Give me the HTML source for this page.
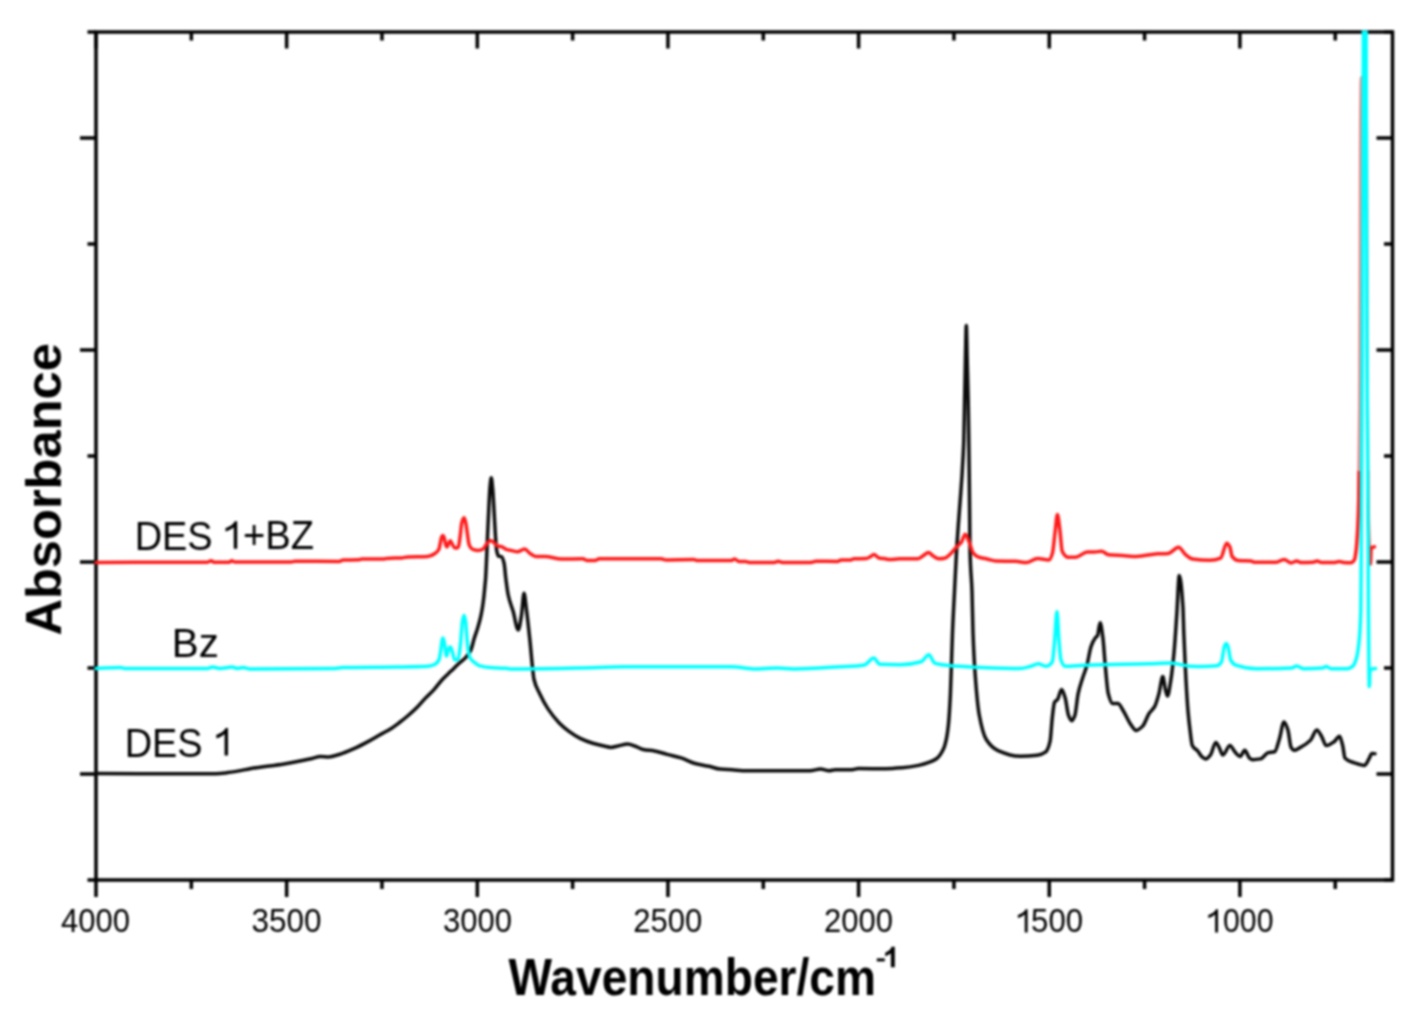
<!DOCTYPE html>
<html><head><meta charset="utf-8"><style>
html,body{margin:0;padding:0;background:#fff;width:1428px;height:1022px;overflow:hidden}
svg{display:block;filter:blur(0.8px)}
text{font-family:"Liberation Sans",sans-serif;fill:#000}
</style></head><body>
<svg width="1428" height="1022" viewBox="0 0 1428 1022">
<rect width="1428" height="1022" fill="#fff"/>
<g fill="none" stroke="#000" stroke-width="3.5" stroke-linecap="butt">
<rect x="96" y="32" width="1296.5" height="848"/>
<path d="M80,138H96M80,350H96M80,562H96M80,774H96M87.5,32H96M87.5,244H96M87.5,456H96M87.5,668H96M87.5,880H96M1376.5,138H1392.5M1376.5,350H1392.5M1376.5,562H1392.5M1376.5,774H1392.5M1384.0,32H1392.5M1384.0,244H1392.5M1384.0,456H1392.5M1384.0,668H1392.5M1384.0,880H1392.5M96.00,32V48.5M286.65,32V48.5M477.30,32V48.5M667.95,32V48.5M858.60,32V48.5M1049.25,32V48.5M1239.90,32V48.5M191.33,32V40.5M381.98,32V40.5M572.63,32V40.5M763.28,32V40.5M953.93,32V40.5M1144.58,32V40.5M1335.23,32V40.5M96.00,880V897M286.65,880V897M477.30,880V897M667.95,880V897M858.60,880V897M1049.25,880V897M1239.90,880V897M191.33,880V889M381.98,880V889M572.63,880V889M763.28,880V889M953.93,880V889M1144.58,880V889M1335.23,880V889"/>
</g>
<text id="t4000" x="60.90" y="932.40" font-size="33.60" textLength="69.00" lengthAdjust="spacingAndGlyphs">4000</text><text id="t3500" x="251.50" y="932.40" font-size="33.60" textLength="70.00" lengthAdjust="spacingAndGlyphs">3500</text><text id="t3000" x="443.00" y="932.40" font-size="33.60" textLength="69.00" lengthAdjust="spacingAndGlyphs">3000</text><text id="t2500" x="633.20" y="932.40" font-size="33.60" textLength="69.00" lengthAdjust="spacingAndGlyphs">2500</text><text id="t2000" x="823.90" y="932.40" font-size="33.60" textLength="69.00" lengthAdjust="spacingAndGlyphs">2000</text><path id="t1500a" fill="#000" transform="translate(1015.604,932.400) scale(0.015723,-0.015723)" d="M763,0L583,0L583,1147C543,1109 490,1071 426,1033C352,990 250,950 143,920L143,1100C263,1150 400,1213 484,1280C558,1346 610,1408 640,1466L763,1466Z"/><text id="t1500" x="1031.10" y="932.40" font-size="33.60" textLength="52.00" lengthAdjust="spacingAndGlyphs">500</text><path id="t1000a" fill="#000" transform="translate(1206.004,932.400) scale(0.015723,-0.015723)" d="M763,0L583,0L583,1147C543,1109 490,1071 426,1033C352,990 250,950 143,920L143,1100C263,1150 400,1213 484,1280C558,1346 610,1408 640,1466L763,1466Z"/><text id="t1000" x="1223.00" y="932.40" font-size="33.60" textLength="50.50" lengthAdjust="spacingAndGlyphs">000</text><text id="wave" x="508.50" y="995.10" font-size="51.50" font-weight="bold" textLength="367.50" lengthAdjust="spacingAndGlyphs">Wavenumber/cm</text><rect id="supm" fill="#000" x="876.8" y="958.4" width="8" height="3"/><path id="sup1" fill="#000" transform="translate(883.125,967.200) scale(0.013965,-0.013965)" d="M836,0L555,0L555,1000C470,920 340,850 150,790L150,1040C260,1080 360,1140 440,1210C520,1280 570,1360 600,1466L836,1466Z"/><text id="abs" transform="translate(61.20,635.60) rotate(-90)" font-size="49.50" font-weight="bold" textLength="292.50" lengthAdjust="spacingAndGlyphs">Absorbance</text><text id="l1" x="134.65" y="549.60" font-size="41.20" textLength="78.00" lengthAdjust="spacingAndGlyphs">DES</text><path id="l1b" fill="#000" transform="translate(222.819,548.800) scale(0.018848,-0.018848)" d="M763,0L583,0L583,1147C543,1109 490,1071 426,1033C352,990 250,950 143,920L143,1100C263,1150 400,1213 484,1280C558,1346 610,1408 640,1466L763,1466Z"/><text id="l1c" x="243.00" y="549.40" font-size="39.80" textLength="71.00" lengthAdjust="spacingAndGlyphs">+BZ</text><text id="l2" x="171.80" y="656.70" font-size="39.80" textLength="47.00" lengthAdjust="spacingAndGlyphs">Bz</text><text id="l3" x="124.65" y="756.60" font-size="41.20" textLength="78.00" lengthAdjust="spacingAndGlyphs">DES</text><path id="l3b" fill="#000" transform="translate(213.619,755.600) scale(0.018848,-0.018848)" d="M763,0L583,0L583,1147C543,1109 490,1071 426,1033C352,990 250,950 143,920L143,1100C263,1150 400,1213 484,1280C558,1346 610,1408 640,1466L763,1466Z"/>
<clipPath id="c"><rect x="0" y="30.5" width="1428" height="900"/></clipPath>
<clipPath id="rA"><path d="M0,0H1355V470H1373V0H1428V1022H0Z"/></clipPath>
<clipPath id="rB"><rect x="1355" y="0" width="18" height="470"/></clipPath>
<g fill="none" stroke-width="3.5" stroke-linejoin="round" stroke-linecap="round" clip-path="url(#c)">
<path transform="translate(0,0.3)" stroke="#0a0a0a" d="M96.00,773.30C136.00,773.33 176.00,773.40 216.00,773.40C220.00,773.40 224.00,772.76 228.00,772.30C237.33,771.22 246.67,768.81 256.00,767.40C265.33,765.99 274.67,765.17 284.00,763.70C293.33,762.23 302.67,760.24 312.00,758.20C314.80,757.59 317.60,756.20 320.40,756.20C323.20,756.20 326.00,756.60 328.80,756.60C332.53,756.60 336.27,755.01 340.00,753.90C344.67,752.51 349.33,750.37 354.00,748.30C358.67,746.23 363.33,743.79 368.00,741.30C372.67,738.81 377.33,735.91 382.00,733.30C384.67,731.81 387.33,730.54 390.00,728.90C392.93,727.09 395.87,724.89 398.80,722.70C401.73,720.51 404.67,718.17 407.60,715.70C410.53,713.23 413.47,710.70 416.40,707.80C419.33,704.90 422.27,701.18 425.20,698.10C428.13,695.02 431.07,692.51 434.00,689.30C436.93,686.09 439.87,681.84 442.80,678.70C445.53,675.78 448.27,673.43 451.00,670.80C453.53,668.36 456.07,665.87 458.60,663.50C461.17,661.10 463.73,659.42 466.30,656.50C467.80,654.79 469.30,653.12 470.80,650.00C471.93,647.64 473.07,641.87 474.20,638.20C475.33,634.53 476.47,631.66 477.60,627.90C478.53,624.80 479.47,621.72 480.40,617.70C481.07,614.83 481.73,611.48 482.40,607.40C482.87,604.54 483.33,601.14 483.80,597.10C484.13,594.21 484.47,590.35 484.80,586.80C485.07,583.96 485.33,581.74 485.60,578.00C485.93,573.32 486.27,565.27 486.60,558.00C486.90,551.46 487.20,543.35 487.50,536.50C487.93,526.60 488.37,516.73 488.80,508.20C489.20,500.33 489.60,490.66 490.00,486.60C490.43,482.21 490.87,477.50 491.30,477.50C491.80,477.50 492.30,484.41 492.80,490.00C493.23,494.85 493.67,504.11 494.10,511.60C494.50,518.52 494.90,527.21 495.30,533.20C495.73,539.69 496.17,547.41 496.60,549.80C497.17,552.93 497.73,555.29 498.30,555.60C499.40,556.21 500.50,555.94 501.60,556.50C502.43,556.93 503.27,559.59 504.10,563.10C504.67,565.48 505.23,573.68 505.80,578.10C506.60,584.35 507.40,590.96 508.20,594.70C509.87,602.50 511.53,605.50 513.20,611.30C514.87,617.10 516.53,629.60 518.20,629.60C519.30,629.60 520.40,621.33 521.50,614.70C522.33,609.68 523.17,593.00 524.00,593.00C524.83,593.00 525.67,603.38 526.50,609.70C527.63,618.29 528.77,629.10 529.90,640.00C530.80,648.65 531.70,659.98 532.60,668.00C533.07,672.16 533.53,677.21 534.00,679.20C535.87,687.14 537.73,689.21 539.60,693.20C542.40,699.18 545.20,704.40 548.00,708.60C551.73,714.20 555.47,718.82 559.20,722.60C562.47,725.91 565.73,728.63 569.00,731.00C572.73,733.71 576.47,736.20 580.20,738.00C584.40,740.02 588.60,741.63 592.80,742.90C596.53,744.03 600.27,744.88 604.00,745.70C606.33,746.21 608.67,747.10 611.00,747.10C613.33,747.10 615.67,746.18 618.00,745.70C621.27,745.03 624.53,743.60 627.80,743.60C630.13,743.60 632.47,744.89 634.80,745.70C637.60,746.67 640.40,748.65 643.20,749.20C646.97,749.94 650.73,749.96 654.50,750.60C658.70,751.31 662.90,752.99 667.10,754.10C671.77,755.33 676.43,756.16 681.10,757.60C685.77,759.04 690.43,761.96 695.10,763.20C699.77,764.44 704.43,764.95 709.10,766.00C712.73,766.82 716.37,768.45 720.00,768.80C724.00,769.18 728.00,769.26 732.00,769.50C737.00,769.80 742.00,770.40 747.00,770.40C768.00,770.40 789.00,770.40 810.00,770.40C813.53,770.40 817.07,768.70 820.60,768.70C823.40,768.70 826.20,770.40 829.00,770.40C831.10,770.40 833.20,769.40 835.30,769.40C840.87,769.40 846.43,769.40 852.00,769.40C854.13,769.40 856.27,768.30 858.40,768.30C867.53,768.30 876.67,768.40 885.80,768.40C891.27,768.40 896.73,767.94 902.20,767.50C907.67,767.06 913.13,766.19 918.60,765.10C922.23,764.37 925.87,763.28 929.50,761.90C931.93,760.98 934.37,760.03 936.80,758.20C938.93,756.60 941.07,753.72 943.20,749.30C944.30,747.02 945.40,743.23 946.50,738.00C947.13,734.99 947.77,730.71 948.40,724.60C949.07,718.17 949.73,707.65 950.40,693.80C950.73,686.88 951.07,674.76 951.40,665.00C951.77,654.26 952.13,641.28 952.50,632.20C953.17,615.68 953.83,604.47 954.50,591.10C955.20,577.06 955.90,561.69 956.60,550.00C957.23,539.42 957.87,530.93 958.50,522.20C959.10,513.93 959.70,506.76 960.30,498.70C960.87,491.09 961.43,484.03 962.00,475.20C962.40,468.97 962.80,462.28 963.20,454.10C963.40,450.01 963.60,446.29 963.80,440.00C964.07,431.62 964.33,413.33 964.60,400.00C964.87,386.67 965.13,371.66 965.40,360.00C965.70,346.88 966.00,325.20 966.30,325.20C966.60,325.20 966.90,348.21 967.20,360.00C967.53,373.10 967.87,382.98 968.20,400.00C968.40,410.21 968.60,425.41 968.80,440.00C968.97,452.15 969.13,465.12 969.30,480.00C969.43,491.90 969.57,506.67 969.70,520.00C969.80,530.00 969.90,545.93 970.00,550.00C970.67,577.14 971.33,572.13 972.00,591.10C972.33,600.58 972.67,622.97 973.00,632.20C973.70,651.57 974.40,663.69 975.10,673.30C976.47,692.07 977.83,707.00 979.20,714.40C981.60,727.39 984.00,735.81 986.40,739.50C990.27,745.45 994.13,748.64 998.00,750.30C1005.33,753.46 1012.67,756.00 1020.00,756.00C1025.73,756.00 1031.47,755.58 1037.20,754.90C1040.07,754.56 1042.93,753.68 1045.80,751.60C1047.23,750.56 1048.67,747.11 1050.10,740.90C1050.83,737.72 1051.57,723.35 1052.30,717.20C1053.03,711.05 1053.77,703.44 1054.50,702.10C1055.57,700.15 1056.63,700.40 1057.70,698.90C1059.00,697.07 1060.30,689.20 1061.60,689.20C1062.80,689.20 1064.00,693.85 1065.20,697.80C1066.30,701.42 1067.40,712.20 1068.50,715.00C1069.57,717.71 1070.63,720.40 1071.70,720.40C1072.77,720.40 1073.83,717.88 1074.90,715.00C1075.97,712.12 1077.03,698.50 1078.10,693.50C1079.53,686.79 1080.97,682.98 1082.40,678.40C1083.87,673.71 1085.33,670.72 1086.80,665.50C1088.23,660.40 1089.67,650.07 1091.10,646.10C1092.53,642.13 1093.97,639.34 1095.40,637.50C1096.10,636.60 1096.80,636.54 1097.50,635.40C1098.37,633.99 1099.23,622.40 1100.10,622.40C1101.03,622.40 1101.97,630.49 1102.90,637.50C1103.63,643.01 1104.37,655.68 1105.10,663.40C1106.17,674.63 1107.23,689.50 1108.30,693.50C1109.73,698.88 1111.17,703.20 1112.60,703.20C1114.40,703.20 1116.20,703.20 1118.00,703.20C1119.80,703.20 1121.60,707.85 1123.40,710.70C1125.53,714.08 1127.67,719.56 1129.80,722.60C1131.97,725.69 1134.13,730.10 1136.30,730.10C1138.43,730.10 1140.57,727.94 1142.70,725.80C1144.87,723.63 1147.03,716.12 1149.20,712.90C1151.00,710.22 1152.80,709.54 1154.60,706.40C1156.03,703.90 1157.47,698.63 1158.90,693.50C1160.20,688.84 1161.50,676.30 1162.80,676.30C1163.67,676.30 1164.53,685.92 1165.40,689.20C1166.10,691.85 1166.80,695.70 1167.50,695.70C1168.57,695.70 1169.63,687.06 1170.70,680.60C1171.80,673.94 1172.90,664.25 1174.00,652.60C1174.93,642.71 1175.87,627.46 1176.80,613.80C1177.63,601.60 1178.47,575.10 1179.30,575.10C1180.50,575.10 1181.70,588.28 1182.90,606.30C1183.20,610.80 1183.50,624.99 1183.80,632.70C1184.23,643.83 1184.67,652.85 1185.10,662.00C1185.40,668.34 1185.70,674.70 1186.00,680.00C1186.67,691.78 1187.33,702.90 1188.00,710.70C1188.67,718.50 1189.33,724.32 1190.00,729.60C1190.77,735.68 1191.53,743.69 1192.30,745.20C1194.13,748.81 1195.97,748.63 1197.80,750.80C1199.10,752.34 1200.40,755.11 1201.70,756.20C1203.03,757.32 1204.37,758.60 1205.70,758.60C1207.27,758.60 1208.83,756.60 1210.40,754.70C1212.20,752.52 1214.00,742.10 1215.80,742.10C1216.87,742.10 1217.93,744.99 1219.00,746.80C1220.30,749.00 1221.60,754.70 1222.90,754.70C1225.23,754.70 1227.57,745.30 1229.90,745.30C1231.73,745.30 1233.57,750.47 1235.40,752.30C1236.97,753.87 1238.53,756.20 1240.10,756.20C1241.67,756.20 1243.23,750.00 1244.80,750.00C1246.37,750.00 1247.93,756.61 1249.50,757.80C1250.53,758.59 1251.57,759.40 1252.60,759.40C1255.23,759.40 1257.87,759.07 1260.50,758.60C1263.10,758.13 1265.70,752.86 1268.30,752.30C1270.40,751.85 1272.50,752.03 1274.60,751.50C1276.17,751.10 1277.73,743.83 1279.30,739.00C1280.87,734.17 1282.43,721.80 1284.00,721.80C1285.30,721.80 1286.60,725.71 1287.90,729.60C1288.93,732.69 1289.97,745.00 1291.00,746.80C1292.03,748.60 1293.07,750.00 1294.10,750.00C1295.93,750.00 1297.77,748.56 1299.60,747.60C1303.27,745.67 1306.93,743.57 1310.60,739.80C1312.67,737.67 1314.73,729.60 1316.80,729.60C1318.37,729.60 1319.93,733.39 1321.50,735.90C1323.07,738.41 1324.63,745.30 1326.20,745.30C1328.83,745.30 1331.47,743.19 1334.10,741.40C1335.90,740.18 1337.70,735.90 1339.50,735.90C1340.57,735.90 1341.63,741.16 1342.70,745.30C1343.47,748.27 1344.23,756.96 1345.00,757.80C1348.13,761.25 1351.27,761.44 1354.40,762.50C1357.80,763.65 1361.20,765.10 1364.60,765.10C1366.13,765.10 1367.67,760.60 1369.20,758.00C1370.07,756.53 1370.93,753.20 1371.80,753.20C1372.87,753.20 1373.93,753.33 1375.00,753.40"/>
<path transform="translate(0,0.4)" stroke="#ff1a1a" clip-path="url(#rA)" d="M96.00,562.00C133.00,561.93 170.00,561.99 207.00,561.80C208.40,561.79 209.80,560.40 211.20,560.40C212.13,560.40 213.07,561.80 214.00,561.80C219.00,561.80 224.00,561.80 229.00,561.80C229.93,561.80 230.87,560.40 231.80,560.40C232.87,560.40 233.93,561.60 235.00,561.60C253.67,561.60 272.33,561.60 291.00,561.60C292.33,561.60 293.67,560.90 295.00,560.90C309.73,560.90 324.47,561.00 339.20,561.00C340.50,561.00 341.80,559.64 343.10,559.60C348.33,559.44 353.57,559.56 358.80,559.40C359.80,559.37 360.80,558.60 361.80,558.60C369.30,558.60 376.80,558.60 384.30,558.60C384.97,558.60 385.63,558.05 386.30,558.00C391.53,557.62 396.77,557.81 402.00,557.50C403.93,557.38 405.87,556.60 407.80,556.50C414.37,556.16 420.93,556.37 427.50,556.00C428.33,555.95 429.17,555.73 430.00,555.50C431.63,555.06 433.27,554.20 434.90,553.10C436.20,552.23 437.50,551.44 438.80,549.10C439.37,548.08 439.93,544.29 440.50,541.80C440.90,540.04 441.30,537.10 441.70,536.40C442.13,535.64 442.57,535.00 443.00,535.00C443.40,535.00 443.80,536.31 444.20,537.40C444.70,538.77 445.20,542.79 445.70,544.20C446.10,545.33 446.50,546.70 446.90,546.70C447.47,546.70 448.03,544.36 448.60,543.30C449.17,542.24 449.73,540.30 450.30,540.30C450.87,540.30 451.43,542.36 452.00,543.30C452.83,544.69 453.67,546.84 454.50,547.20C455.13,547.48 455.77,547.70 456.40,547.70C457.07,547.70 457.73,547.10 458.40,546.20C459.03,545.35 459.67,538.98 460.30,534.50C460.80,530.96 461.30,524.02 461.80,522.20C462.53,519.53 463.27,517.30 464.00,517.30C464.57,517.30 465.13,519.91 465.70,522.20C466.20,524.22 466.70,528.76 467.20,532.00C467.83,536.10 468.47,542.53 469.10,544.20C469.93,546.39 470.77,547.64 471.60,548.20C472.73,548.97 473.87,549.37 475.00,549.60C475.97,549.80 476.93,550.00 477.90,550.00C479.63,550.00 481.37,549.41 483.10,548.60C484.33,548.02 485.57,544.72 486.80,543.40C488.03,542.08 489.27,540.20 490.50,540.20C491.53,540.20 492.57,541.10 493.60,541.80C494.83,542.63 496.07,545.14 497.30,545.50C498.70,545.91 500.10,545.85 501.50,546.20C503.27,546.65 505.03,548.69 506.80,549.20C508.53,549.70 510.27,549.84 512.00,550.20C513.77,550.57 515.53,551.40 517.30,551.40C519.73,551.40 522.17,548.60 524.60,548.60C526.53,548.60 528.47,552.21 530.40,553.40C532.17,554.48 533.93,556.00 535.70,556.00C538.80,556.00 541.90,556.00 545.00,556.00C550.47,556.00 555.93,558.60 561.40,558.60C568.57,558.60 575.73,558.40 582.90,558.40C584.17,558.40 585.43,560.00 586.70,560.00C589.63,560.00 592.57,560.00 595.50,560.00C596.77,560.00 598.03,558.30 599.30,558.30C619.87,558.30 640.43,558.30 661.00,558.30C662.70,558.30 664.40,559.50 666.10,559.50C675.33,559.50 684.57,559.20 693.80,559.20C695.07,559.20 696.33,560.20 697.60,560.20C708.87,560.20 720.13,560.18 731.40,560.00C732.47,559.98 733.53,558.60 734.60,558.60C736.07,558.60 737.53,561.10 739.00,561.10C741.10,561.10 743.20,561.10 745.30,561.10C746.57,561.10 747.83,562.00 749.10,562.00C757.50,562.00 765.90,562.00 774.30,562.00C775.57,562.00 776.83,560.80 778.10,560.80C779.57,560.80 781.03,562.00 782.50,562.00C791.97,562.00 801.43,562.00 810.90,562.00C812.57,562.00 814.23,560.80 815.90,560.80C823.07,560.80 830.23,561.10 837.40,561.10C838.63,561.10 839.87,559.50 841.10,559.50C844.47,559.50 847.83,559.50 851.20,559.50C852.07,559.50 852.93,558.43 853.80,558.40C858.00,558.24 862.20,558.36 866.40,558.20C867.67,558.15 868.93,556.99 870.20,556.30C871.43,555.63 872.67,554.10 873.90,554.10C875.60,554.10 877.30,557.25 879.00,557.60C880.67,557.94 882.33,557.97 884.00,558.20C886.00,558.48 888.00,559.20 890.00,559.20C893.20,559.20 896.40,558.30 899.60,558.30C905.80,558.30 912.00,558.30 918.20,558.30C919.83,558.30 921.47,556.40 923.10,555.40C924.90,554.30 926.70,552.00 928.50,552.00C929.97,552.00 931.43,554.51 932.90,555.40C934.87,556.59 936.83,558.30 938.80,558.30C940.77,558.30 942.73,558.10 944.70,557.80C946.67,557.50 948.63,555.18 950.60,553.40C952.57,551.62 954.53,548.70 956.50,546.60C958.13,544.85 959.77,543.92 961.40,541.70C962.70,539.94 964.00,533.80 965.30,533.80C966.60,533.80 967.90,538.66 969.20,541.70C970.50,544.74 971.80,550.86 973.10,552.50C974.73,554.56 976.37,555.75 978.00,556.40C981.27,557.70 984.53,558.03 987.80,558.80C990.43,559.42 993.07,560.52 995.70,560.60C1002.40,560.82 1009.10,560.71 1015.80,560.90C1019.30,561.00 1022.80,562.20 1026.30,562.20C1030.07,562.20 1033.83,558.10 1037.60,558.10C1041.40,558.10 1045.20,559.50 1049.00,559.50C1050.17,559.50 1051.33,556.35 1052.50,552.50C1053.37,549.64 1054.23,538.29 1055.10,531.50C1055.87,525.50 1056.63,514.00 1057.40,514.00C1058.23,514.00 1059.07,523.56 1059.90,529.80C1060.67,535.54 1061.43,549.23 1062.20,550.80C1064.23,554.97 1066.27,556.90 1068.30,556.90C1070.63,556.90 1072.97,556.90 1075.30,556.90C1079.37,556.90 1083.43,551.60 1087.50,551.60C1089.83,551.60 1092.17,551.60 1094.50,551.60C1096.83,551.60 1099.17,550.80 1101.50,550.80C1103.83,550.80 1106.17,554.04 1108.50,554.30C1113.17,554.83 1117.83,554.82 1122.50,555.10C1127.20,555.38 1131.90,556.00 1136.60,556.00C1143.60,556.00 1150.60,553.79 1157.60,553.40C1161.10,553.21 1164.60,553.25 1168.10,553.00C1171.60,552.75 1175.10,546.90 1178.60,546.90C1180.93,546.90 1183.27,552.49 1185.60,554.30C1187.93,556.11 1190.27,558.25 1192.60,558.60C1198.43,559.47 1204.27,559.90 1210.10,559.90C1213.60,559.90 1217.10,559.20 1220.60,557.80C1222.63,556.99 1224.67,542.90 1226.70,542.90C1227.80,542.90 1228.90,544.79 1230.00,547.00C1230.70,548.41 1231.40,555.08 1232.10,556.00C1234.20,558.76 1236.30,560.03 1238.40,560.20C1242.60,560.55 1246.80,560.35 1251.00,560.70C1252.07,560.79 1253.13,561.80 1254.20,561.80C1261.53,561.80 1268.87,561.80 1276.20,561.80C1278.83,561.80 1281.47,559.00 1284.10,559.00C1286.37,559.00 1288.63,562.50 1290.90,562.50C1292.83,562.50 1294.77,560.70 1296.70,560.70C1298.27,560.70 1299.83,562.10 1301.40,562.10C1305.27,562.10 1309.13,562.01 1313.00,561.80C1314.40,561.72 1315.80,560.50 1317.20,560.50C1318.60,560.50 1320.00,562.10 1321.40,562.10C1325.93,562.10 1330.47,562.10 1335.00,562.10C1336.40,562.10 1337.80,561.00 1339.20,561.00C1340.60,561.00 1342.00,562.03 1343.40,562.10C1345.87,562.23 1348.33,562.30 1350.80,562.30C1352.03,562.30 1353.27,561.21 1354.50,559.20C1355.00,558.39 1355.50,554.67 1356.00,550.80C1356.43,547.45 1356.87,542.06 1357.30,535.00C1357.77,527.40 1358.23,518.73 1358.70,500.00C1359.07,485.29 1359.43,454.83 1359.80,400.00C1359.97,375.08 1360.13,302.08 1360.30,250.00C1360.43,208.34 1360.57,133.36 1360.70,120.00C1360.97,93.27 1361.23,77.00 1361.50,77.00C1362.83,77.00 1364.17,77.00 1365.50,77.00C1365.77,77.00 1366.03,94.98 1366.30,120.00C1366.47,135.64 1366.63,203.57 1366.80,250.00C1366.97,296.43 1367.13,367.09 1367.30,400.00C1367.53,446.07 1367.77,484.19 1368.00,500.00C1368.40,527.11 1368.80,542.91 1369.20,550.00C1369.60,557.09 1370.00,563.50 1370.40,563.50C1370.63,563.50 1370.87,549.83 1371.10,549.00C1371.47,547.69 1371.83,547.16 1372.20,547.00C1372.97,546.67 1373.73,546.67 1374.50,546.50"/>
<path transform="translate(0,0.4)" stroke="#ee8c8c" clip-path="url(#rB)" d="M96.00,562.00C133.00,561.93 170.00,561.99 207.00,561.80C208.40,561.79 209.80,560.40 211.20,560.40C212.13,560.40 213.07,561.80 214.00,561.80C219.00,561.80 224.00,561.80 229.00,561.80C229.93,561.80 230.87,560.40 231.80,560.40C232.87,560.40 233.93,561.60 235.00,561.60C253.67,561.60 272.33,561.60 291.00,561.60C292.33,561.60 293.67,560.90 295.00,560.90C309.73,560.90 324.47,561.00 339.20,561.00C340.50,561.00 341.80,559.64 343.10,559.60C348.33,559.44 353.57,559.56 358.80,559.40C359.80,559.37 360.80,558.60 361.80,558.60C369.30,558.60 376.80,558.60 384.30,558.60C384.97,558.60 385.63,558.05 386.30,558.00C391.53,557.62 396.77,557.81 402.00,557.50C403.93,557.38 405.87,556.60 407.80,556.50C414.37,556.16 420.93,556.37 427.50,556.00C428.33,555.95 429.17,555.73 430.00,555.50C431.63,555.06 433.27,554.20 434.90,553.10C436.20,552.23 437.50,551.44 438.80,549.10C439.37,548.08 439.93,544.29 440.50,541.80C440.90,540.04 441.30,537.10 441.70,536.40C442.13,535.64 442.57,535.00 443.00,535.00C443.40,535.00 443.80,536.31 444.20,537.40C444.70,538.77 445.20,542.79 445.70,544.20C446.10,545.33 446.50,546.70 446.90,546.70C447.47,546.70 448.03,544.36 448.60,543.30C449.17,542.24 449.73,540.30 450.30,540.30C450.87,540.30 451.43,542.36 452.00,543.30C452.83,544.69 453.67,546.84 454.50,547.20C455.13,547.48 455.77,547.70 456.40,547.70C457.07,547.70 457.73,547.10 458.40,546.20C459.03,545.35 459.67,538.98 460.30,534.50C460.80,530.96 461.30,524.02 461.80,522.20C462.53,519.53 463.27,517.30 464.00,517.30C464.57,517.30 465.13,519.91 465.70,522.20C466.20,524.22 466.70,528.76 467.20,532.00C467.83,536.10 468.47,542.53 469.10,544.20C469.93,546.39 470.77,547.64 471.60,548.20C472.73,548.97 473.87,549.37 475.00,549.60C475.97,549.80 476.93,550.00 477.90,550.00C479.63,550.00 481.37,549.41 483.10,548.60C484.33,548.02 485.57,544.72 486.80,543.40C488.03,542.08 489.27,540.20 490.50,540.20C491.53,540.20 492.57,541.10 493.60,541.80C494.83,542.63 496.07,545.14 497.30,545.50C498.70,545.91 500.10,545.85 501.50,546.20C503.27,546.65 505.03,548.69 506.80,549.20C508.53,549.70 510.27,549.84 512.00,550.20C513.77,550.57 515.53,551.40 517.30,551.40C519.73,551.40 522.17,548.60 524.60,548.60C526.53,548.60 528.47,552.21 530.40,553.40C532.17,554.48 533.93,556.00 535.70,556.00C538.80,556.00 541.90,556.00 545.00,556.00C550.47,556.00 555.93,558.60 561.40,558.60C568.57,558.60 575.73,558.40 582.90,558.40C584.17,558.40 585.43,560.00 586.70,560.00C589.63,560.00 592.57,560.00 595.50,560.00C596.77,560.00 598.03,558.30 599.30,558.30C619.87,558.30 640.43,558.30 661.00,558.30C662.70,558.30 664.40,559.50 666.10,559.50C675.33,559.50 684.57,559.20 693.80,559.20C695.07,559.20 696.33,560.20 697.60,560.20C708.87,560.20 720.13,560.18 731.40,560.00C732.47,559.98 733.53,558.60 734.60,558.60C736.07,558.60 737.53,561.10 739.00,561.10C741.10,561.10 743.20,561.10 745.30,561.10C746.57,561.10 747.83,562.00 749.10,562.00C757.50,562.00 765.90,562.00 774.30,562.00C775.57,562.00 776.83,560.80 778.10,560.80C779.57,560.80 781.03,562.00 782.50,562.00C791.97,562.00 801.43,562.00 810.90,562.00C812.57,562.00 814.23,560.80 815.90,560.80C823.07,560.80 830.23,561.10 837.40,561.10C838.63,561.10 839.87,559.50 841.10,559.50C844.47,559.50 847.83,559.50 851.20,559.50C852.07,559.50 852.93,558.43 853.80,558.40C858.00,558.24 862.20,558.36 866.40,558.20C867.67,558.15 868.93,556.99 870.20,556.30C871.43,555.63 872.67,554.10 873.90,554.10C875.60,554.10 877.30,557.25 879.00,557.60C880.67,557.94 882.33,557.97 884.00,558.20C886.00,558.48 888.00,559.20 890.00,559.20C893.20,559.20 896.40,558.30 899.60,558.30C905.80,558.30 912.00,558.30 918.20,558.30C919.83,558.30 921.47,556.40 923.10,555.40C924.90,554.30 926.70,552.00 928.50,552.00C929.97,552.00 931.43,554.51 932.90,555.40C934.87,556.59 936.83,558.30 938.80,558.30C940.77,558.30 942.73,558.10 944.70,557.80C946.67,557.50 948.63,555.18 950.60,553.40C952.57,551.62 954.53,548.70 956.50,546.60C958.13,544.85 959.77,543.92 961.40,541.70C962.70,539.94 964.00,533.80 965.30,533.80C966.60,533.80 967.90,538.66 969.20,541.70C970.50,544.74 971.80,550.86 973.10,552.50C974.73,554.56 976.37,555.75 978.00,556.40C981.27,557.70 984.53,558.03 987.80,558.80C990.43,559.42 993.07,560.52 995.70,560.60C1002.40,560.82 1009.10,560.71 1015.80,560.90C1019.30,561.00 1022.80,562.20 1026.30,562.20C1030.07,562.20 1033.83,558.10 1037.60,558.10C1041.40,558.10 1045.20,559.50 1049.00,559.50C1050.17,559.50 1051.33,556.35 1052.50,552.50C1053.37,549.64 1054.23,538.29 1055.10,531.50C1055.87,525.50 1056.63,514.00 1057.40,514.00C1058.23,514.00 1059.07,523.56 1059.90,529.80C1060.67,535.54 1061.43,549.23 1062.20,550.80C1064.23,554.97 1066.27,556.90 1068.30,556.90C1070.63,556.90 1072.97,556.90 1075.30,556.90C1079.37,556.90 1083.43,551.60 1087.50,551.60C1089.83,551.60 1092.17,551.60 1094.50,551.60C1096.83,551.60 1099.17,550.80 1101.50,550.80C1103.83,550.80 1106.17,554.04 1108.50,554.30C1113.17,554.83 1117.83,554.82 1122.50,555.10C1127.20,555.38 1131.90,556.00 1136.60,556.00C1143.60,556.00 1150.60,553.79 1157.60,553.40C1161.10,553.21 1164.60,553.25 1168.10,553.00C1171.60,552.75 1175.10,546.90 1178.60,546.90C1180.93,546.90 1183.27,552.49 1185.60,554.30C1187.93,556.11 1190.27,558.25 1192.60,558.60C1198.43,559.47 1204.27,559.90 1210.10,559.90C1213.60,559.90 1217.10,559.20 1220.60,557.80C1222.63,556.99 1224.67,542.90 1226.70,542.90C1227.80,542.90 1228.90,544.79 1230.00,547.00C1230.70,548.41 1231.40,555.08 1232.10,556.00C1234.20,558.76 1236.30,560.03 1238.40,560.20C1242.60,560.55 1246.80,560.35 1251.00,560.70C1252.07,560.79 1253.13,561.80 1254.20,561.80C1261.53,561.80 1268.87,561.80 1276.20,561.80C1278.83,561.80 1281.47,559.00 1284.10,559.00C1286.37,559.00 1288.63,562.50 1290.90,562.50C1292.83,562.50 1294.77,560.70 1296.70,560.70C1298.27,560.70 1299.83,562.10 1301.40,562.10C1305.27,562.10 1309.13,562.01 1313.00,561.80C1314.40,561.72 1315.80,560.50 1317.20,560.50C1318.60,560.50 1320.00,562.10 1321.40,562.10C1325.93,562.10 1330.47,562.10 1335.00,562.10C1336.40,562.10 1337.80,561.00 1339.20,561.00C1340.60,561.00 1342.00,562.03 1343.40,562.10C1345.87,562.23 1348.33,562.30 1350.80,562.30C1352.03,562.30 1353.27,561.21 1354.50,559.20C1355.00,558.39 1355.50,554.67 1356.00,550.80C1356.43,547.45 1356.87,542.06 1357.30,535.00C1357.77,527.40 1358.23,518.73 1358.70,500.00C1359.07,485.29 1359.43,454.83 1359.80,400.00C1359.97,375.08 1360.13,302.08 1360.30,250.00C1360.43,208.34 1360.57,133.36 1360.70,120.00C1360.97,93.27 1361.23,77.00 1361.50,77.00C1362.83,77.00 1364.17,77.00 1365.50,77.00C1365.77,77.00 1366.03,94.98 1366.30,120.00C1366.47,135.64 1366.63,203.57 1366.80,250.00C1366.97,296.43 1367.13,367.09 1367.30,400.00C1367.53,446.07 1367.77,484.19 1368.00,500.00C1368.40,527.11 1368.80,542.91 1369.20,550.00C1369.60,557.09 1370.00,563.50 1370.40,563.50C1370.63,563.50 1370.87,549.83 1371.10,549.00C1371.47,547.69 1371.83,547.16 1372.20,547.00C1372.97,546.67 1373.73,546.67 1374.50,546.50"/>
<path transform="translate(0,0.8)" stroke="#00ffff" d="M96.00,667.60C104.20,667.30 112.40,666.70 120.60,666.70C121.83,666.70 123.07,667.60 124.30,667.60C152.07,667.60 179.83,667.60 207.60,667.60C209.23,667.60 210.87,666.20 212.50,666.20C214.97,666.20 217.43,667.60 219.90,667.60C224.00,667.60 228.10,666.20 232.20,666.20C233.83,666.20 235.47,667.60 237.10,667.60C239.13,667.60 241.17,666.70 243.20,666.70C245.23,666.70 247.27,668.10 249.30,668.10C277.87,668.10 306.43,668.03 335.00,667.60C337.50,667.56 340.00,666.75 342.50,666.70C360.47,666.31 378.43,666.44 396.40,666.20C407.00,666.06 417.60,666.03 428.20,665.50C430.50,665.38 432.80,664.63 435.10,663.50C436.37,662.88 437.63,661.67 438.90,659.10C439.53,657.82 440.17,653.43 440.80,649.50C441.23,646.81 441.67,641.02 442.10,639.40C442.40,638.28 442.70,637.10 443.00,637.10C443.53,637.10 444.07,640.67 444.60,643.20C445.23,646.20 445.87,655.30 446.50,655.30C447.37,655.30 448.23,647.74 449.10,647.00C449.53,646.63 449.97,646.30 450.40,646.30C451.03,646.30 451.67,649.06 452.30,650.80C453.13,653.09 453.97,659.10 454.80,659.10C455.87,659.10 456.93,658.87 458.00,658.40C458.83,658.03 459.67,649.97 460.50,643.20C461.13,638.05 461.77,624.63 462.40,620.90C462.93,617.76 463.47,614.50 464.00,614.50C464.53,614.50 465.07,617.63 465.60,620.90C466.03,623.56 466.47,632.09 466.90,636.80C467.33,641.51 467.77,646.95 468.20,649.50C468.83,653.22 469.47,656.10 470.10,657.20C471.57,659.76 473.03,660.37 474.50,661.60C475.83,662.72 477.17,664.04 478.50,664.50C482.40,665.83 486.30,666.53 490.20,666.80C495.13,667.14 500.07,667.06 505.00,667.40C506.67,667.52 508.33,668.10 510.00,668.10C532.63,668.10 555.27,667.61 577.90,667.20C593.30,666.92 608.70,666.00 624.10,666.00C660.07,666.00 696.03,666.00 732.00,666.00C739.17,666.00 746.33,668.10 753.50,668.10C761.73,668.10 769.97,667.20 778.20,667.20C783.33,667.20 788.47,668.10 793.60,668.10C809.00,668.10 824.40,666.90 839.80,666.00C848.03,665.52 856.27,665.41 864.50,664.10C867.57,663.61 870.63,657.30 873.70,657.30C875.77,657.30 877.83,663.40 879.90,663.50C886.60,663.81 893.30,663.90 900.00,663.90C907.07,663.90 914.13,662.86 921.20,660.90C923.73,660.20 926.27,653.90 928.80,653.90C930.80,653.90 932.80,661.71 934.80,662.40C939.37,663.98 943.93,664.38 948.50,664.80C957.60,665.65 966.70,666.03 975.80,666.40C990.53,666.99 1005.27,667.70 1020.00,667.70C1023.60,667.70 1027.20,666.44 1030.80,665.50C1033.30,664.85 1035.80,662.90 1038.30,662.90C1040.80,662.90 1043.30,665.50 1045.80,665.50C1047.97,665.50 1050.13,664.30 1052.30,661.20C1053.07,660.10 1053.83,648.06 1054.60,640.00C1055.40,631.59 1056.20,610.60 1057.00,610.60C1057.67,610.60 1058.33,632.08 1059.00,640.00C1059.63,647.53 1060.27,657.16 1060.90,659.00C1062.33,663.16 1063.77,665.50 1065.20,665.50C1071.67,665.50 1078.13,664.63 1084.60,664.40C1106.13,663.63 1127.67,663.45 1149.20,662.90C1156.37,662.72 1163.53,662.30 1170.70,662.30C1177.13,662.30 1183.57,665.14 1190.00,665.40C1194.00,665.56 1198.00,665.70 1202.00,665.70C1206.90,665.70 1211.80,665.52 1216.70,665.00C1218.30,664.83 1219.90,663.61 1221.50,661.00C1222.07,660.08 1222.63,654.91 1223.20,652.00C1223.67,649.60 1224.13,646.02 1224.60,645.00C1225.13,643.83 1225.67,642.80 1226.20,642.80C1226.73,642.80 1227.27,643.83 1227.80,645.00C1228.27,646.02 1228.73,649.65 1229.20,652.00C1229.67,654.35 1230.13,658.21 1230.60,659.10C1232.33,662.42 1234.07,663.70 1235.80,664.30C1242.63,666.67 1249.47,667.90 1256.30,667.90C1268.07,667.90 1279.83,667.77 1291.60,667.20C1293.30,667.12 1295.00,665.20 1296.70,665.20C1298.90,665.20 1301.10,667.90 1303.30,667.90C1309.67,667.90 1316.03,667.73 1322.40,667.20C1323.63,667.10 1324.87,665.70 1326.10,665.70C1327.80,665.70 1329.50,667.90 1331.20,667.90C1336.60,667.90 1342.00,667.90 1347.40,667.90C1349.23,667.90 1351.07,666.86 1352.90,665.40C1354.20,664.37 1355.50,660.82 1356.80,656.00C1357.57,653.16 1358.33,648.17 1359.10,640.40C1359.67,634.66 1360.23,630.56 1360.80,609.20C1360.93,604.17 1361.07,578.94 1361.20,560.00C1361.50,517.37 1361.80,458.59 1362.10,400.00C1362.40,341.41 1362.70,299.18 1363.00,205.00C1363.12,168.37 1363.23,78.32 1363.35,40.00C1363.40,23.58 1363.45,0.00 1363.50,0.00C1364.30,0.00 1365.10,0.00 1365.90,0.00C1365.98,0.00 1366.07,20.62 1366.15,40.00C1366.27,67.13 1366.38,165.89 1366.50,205.00C1366.77,294.41 1367.03,345.00 1367.30,400.00C1367.60,461.87 1367.90,507.45 1368.20,560.00C1368.30,577.52 1368.40,599.37 1368.50,612.00C1368.77,645.67 1369.03,685.80 1369.30,685.80C1369.57,685.80 1369.83,668.59 1370.10,668.50C1371.93,667.88 1373.77,668.03 1375.60,667.80"/>
</g>
</svg>
</body></html>
